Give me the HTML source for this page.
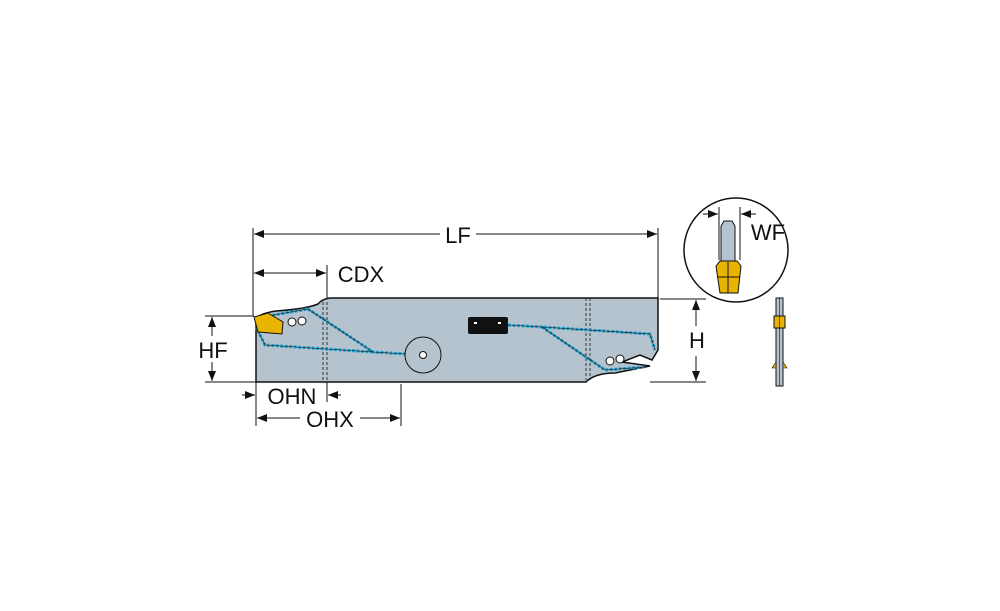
<!DOCTYPE html>
<html><head><style>body{margin:0;background:#fff}svg{display:block}text{font-family:"Liberation Sans",sans-serif;fill:#111}</style></head>
<body>
<svg width="1000" height="611" viewBox="0 0 1000 611" xmlns="http://www.w3.org/2000/svg">
<defs><marker id="a" markerWidth="10" markerHeight="8" refX="10" refY="4" orient="auto" markerUnits="userSpaceOnUse"><path d="M0,0 L10,4 L0,8 z" fill="#111"/></marker></defs>
<g stroke="#111" stroke-width="1" fill="none">
<line x1="253" y1="228" x2="253" y2="316"/><line x1="658" y1="228" x2="658" y2="298"/>
<line x1="327" y1="265" x2="327" y2="298"/>
<line x1="205" y1="316" x2="254" y2="316"/><line x1="205" y1="382" x2="256" y2="382"/>
<line x1="256" y1="382" x2="256" y2="426"/><line x1="401" y1="384" x2="401" y2="426"/><line x1="327" y1="382" x2="327" y2="402"/>
<line x1="660" y1="299" x2="706" y2="299"/><line x1="650" y1="382" x2="706" y2="382"/>
<line x1="440" y1="234" x2="254" y2="234" marker-end="url(#a)"/><line x1="476" y1="234" x2="657" y2="234" marker-end="url(#a)"/>
<line x1="290" y1="273" x2="254" y2="273" marker-end="url(#a)"/><line x1="290" y1="273" x2="326" y2="273" marker-end="url(#a)"/>
<line x1="212" y1="336" x2="212" y2="317" marker-end="url(#a)"/><line x1="212" y1="362" x2="212" y2="381" marker-end="url(#a)"/>
<line x1="242" y1="395" x2="255" y2="395" marker-end="url(#a)"/><line x1="341" y1="395" x2="328" y2="395" marker-end="url(#a)"/>
<line x1="300" y1="418" x2="257" y2="418" marker-end="url(#a)"/><line x1="360" y1="418" x2="400" y2="418" marker-end="url(#a)"/>
<line x1="696" y1="326" x2="696" y2="300" marker-end="url(#a)"/><line x1="696" y1="356" x2="696" y2="381" marker-end="url(#a)"/>
</g>
<path d="M256,318 L256,382 L586,382 Q595,373 615,373 L650,366 L622,362 L640,355 L652,360 L658,350 L658,298 L330,298 Q322,299 318,304 Q306,309 276,311 Q262,313 256,318 Z" fill="#b4c3ce" stroke="#111" stroke-width="1.5"/>
<g stroke="#111" stroke-width="0.8" stroke-dasharray="3,2" fill="none">
<line x1="323" y1="302" x2="323" y2="382"/><line x1="327" y1="302" x2="327" y2="382"/>
<line x1="586" y1="298" x2="586" y2="380"/><line x1="590" y1="298" x2="590" y2="380"/>
</g>
<g stroke="#1a9fd0" stroke-width="3" fill="none" stroke-dasharray="3,1.5">
<path d="M268,316 L308,309 L373,352 L405,354 M373,352 L265,345 L256,327"/>
<path d="M508,325 L542,327 L650,334 L655,350 M542,327 L605,370 L645,367"/>
</g>
<g stroke="#111" stroke-width="0.6" fill="none">
<path d="M268,316 L308,309 L373,352 L405,354 M373,352 L265,345 L256,327"/>
<path d="M508,325 L542,327 L650,334 L655,350 M542,327 L605,370 L645,367"/>
</g>
<path d="M254,317 L268,313 L283,322 L282,334 L258,332 Z" fill="#e8b400" stroke="#111" stroke-width="1"/>
<g fill="#fff" stroke="#111" stroke-width="1">
<path d="M288,322 a4,4 0 1 1 8,0 a4,4 0 1 1 -8,0 M298,321 a4,4 0 1 1 8,0 a4,4 0 1 1 -8,0"/>
<circle cx="610" cy="361" r="4"/><circle cx="620" cy="359" r="4"/>
<circle cx="423" cy="355" r="18" fill="none"/><circle cx="423" cy="355" r="3.5"/></g>
<rect x="468" y="317" width="40" height="17" rx="2" fill="#111"/>
<g fill="#fff"><rect x="474" y="322" width="3" height="2"/><rect x="498" y="322" width="3" height="2"/></g>
<text x="458" y="243" font-size="22" text-anchor="middle">LF</text>
<text x="361" y="282" font-size="22" text-anchor="middle">CDX</text>
<text x="213" y="358" font-size="22" text-anchor="middle">HF</text>
<text x="292" y="404" font-size="22" text-anchor="middle">OHN</text>
<text x="330" y="427" font-size="22" text-anchor="middle">OHX</text>
<text x="697" y="348" font-size="22" text-anchor="middle">H</text>
<circle cx="736" cy="250" r="52" fill="#fff" stroke="#111" stroke-width="1.5"/>
<path d="M721,226 L724,221 L732,221 L735,226 L735,262 L721,262 Z" fill="#b4c3ce" stroke="#111"/>
<path d="M716,266 L720,261 L737,261 L741,266 L738,293 L720,293 Z" fill="#e8b400" stroke="#111"/>
<line x1="728" y1="262" x2="728" y2="293" stroke="#111"/><line x1="717" y1="277" x2="740" y2="277" stroke="#111"/>
<g stroke="#111" stroke-width="1" fill="none"><line x1="719" y1="207" x2="719" y2="260"/><line x1="740" y1="207" x2="740" y2="260"/>
<line x1="703" y1="214" x2="718" y2="214" marker-end="url(#a)"/><line x1="756" y1="214" x2="741" y2="214" marker-end="url(#a)"/></g>
<text x="768" y="240" font-size="22" text-anchor="middle">WF</text>
<rect x="776" y="298" width="7" height="88" fill="#b4c3ce" stroke="#111"/>
<rect x="774" y="316" width="11" height="12" fill="#e8b400" stroke="#111"/>
<path d="M776,362 L772,368 L776,368 Z M783,362 L787,368 L783,368 Z" fill="#e8b400" stroke="#111" stroke-width="0.6"/>
<line x1="779.5" y1="298" x2="779.5" y2="386" stroke="#111" stroke-width="0.6"/>
</svg>
</body></html>
